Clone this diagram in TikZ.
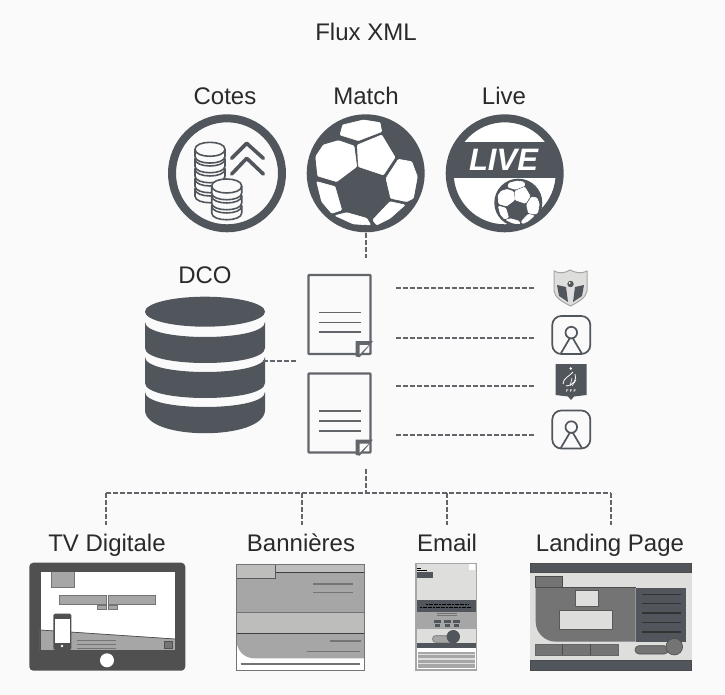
\documentclass[tikz,border=0pt]{standalone}
\usepackage{fontspec}
\setmainfont{Liberation Sans}
\definecolor{ink}{HTML}{50565C}
\definecolor{bgc}{HTML}{FAFAFA}
\definecolor{txt}{HTML}{2A2A2A}
\definecolor{docc}{HTML}{62666A}
\definecolor{gm}{HTML}{A6A6A6}
\definecolor{gl}{HTML}{BDBDBB}
\definecolor{gd}{HTML}{747474}
\definecolor{gx}{HTML}{DEDEDC}
\definecolor{tvd}{HTML}{505050}
\tikzset{
 lab/.style={font=\fontsize{24}{26}\selectfont,text=txt,inner sep=0pt,anchor=base,text height=17pt},
 ring/.style={circle,draw=ink,line width=8pt,minimum size=110pt,inner sep=0pt},
 dashconn/.style={draw=docc,line width=1.8pt,dash pattern=on 5pt off 2pt},
 docbox/.style={draw=docc,line width=2.4pt,fill=bgc,minimum width=62pt,minimum height=79pt,inner sep=0pt,rounded corners=0.8pt},
 docline/.style={draw=docc,line width=1.3pt},
 coin/.style={draw=ink,line width=1.6pt,fill=bgc},
 chev/.style={draw=ink,line width=3.6pt,line cap=round,line join=round},
 panel/.style={fill=white,draw=white,line width=0.6pt,rounded corners=1pt},
 thinl/.style={draw=#1,line width=1.3pt},
 thinl/.default=gd
}
\newcommand{\ballpanels}{%
 \path[panel] (-77,-115)--(-69,-145)--(-7,-160)--(43,-152)--(48,-125)--(-22,-98)--cycle;
 \path[panel] (-82,-98)--(-35,-82)--(-27,-20)--(-87,25)--(-144,8)--(-150,-50)--(-127,-85)--cycle;
 \path[panel] (-25,-85)--(48,-115)--(88,-48)--(53,5)--(-22,-20)--cycle;
 \path[panel] (98,-42)--(138,-35)--(155,10)--(143,75)--(123,85)--(75,75)--(61,15)--cycle;
 \path[panel] (-147,25)--(-92,40)--(-72,110)--(-102,120)--(-132,85)--cycle;
 \path[panel] (-92,127)--(-57,118)--(3,135)--(15,155)--(-37,152)--cycle;
 \path[panel] (21,140)--(73,85)--(118,95)--(73,135)--(33,155)--cycle;
}
\newcommand{\coinlayer}[3]{% x y rx
 \path[coin] (#1-15,#2)--(#1-15,#2+7) .. controls (#1-15,#2+16) and (#1+15,#2+16) .. (#1+15,#2+7)--(#1+15,#2) .. controls (#1+15,#2-9.3) and (#1-15,#2-9.3) .. cycle;
 \draw[coin,fill=none] (#1-15,#2) .. controls (#1-15,#2+9.3) and (#1+15,#2+9.3) .. (#1+15,#2);
}
\newcommand{\placeholder}[1]{%
 \begin{scope}[shift={(#1)}]
 \draw[draw=ink,line width=1.7pt,rounded corners=9pt] (-19,-19) rectangle (19,19);
 \draw[draw=ink,line width=1.7pt] (0,-2.4) circle[radius=5.8];
 \draw[draw=ink,line width=1.7pt] (-10.5,18.5)--(-1.5,3.2) (10.5,18.5)--(1.5,3.2);
 \end{scope}}
\newcommand{\docfold}[1]{%
 \begin{scope}[shift={(#1)}]
 \fill[docc] (-16,1.2)--(-16,-14)--(1.2,-14)--(-12,2)--cycle;
 \fill[bgc] (-12,-1)--(-12,-10)--(-3,-10)--cycle;
 \end{scope}}
\begin{document}
\begin{tikzpicture}[x=1pt,y=-1pt]
\useasboundingbox (0,0) rectangle (725,695);
\fill[bgc] (0,0) rectangle (725,695);
% titles
\node[lab] (flux) at (366,41) {Flux XML};
\node[lab] (cotesl) at (225,105) {Cotes};
\node[lab] (matchl) at (366,105) {Match};
\node[lab] (livel) at (504,105) {Live};
\node[lab] (dco) at (205,283) {DCO};
% Cotes
\node[ring] (cotes) at (227,173.3) {};
\foreach \yy in {189,179,169,159,149.3} {\coinlayer{210}{\yy}{15}}
\foreach \yy in {206,196,186} {\coinlayer{226.7}{\yy}{15}}
\draw[chev] (231.7,158.3)--(246.7,143.3)--(263.3,158.3);
\draw[chev] (231.7,174)--(246.7,158.3)--(263.3,174);
% Match
\node[ring,fill=ink] (match) at (365.7,173.3) {};
\begin{scope}[shift={(365.7,173.3)},scale=1/3]
 \ballpanels
\end{scope}
% Live
\node[ring,fill=white] (live) at (504.7,173.3) {};
\begin{scope}
 \clip (504.7,173.3) circle[radius=56];
 \fill[ink] (440,141.7) rectangle (570,178.3);
 \fill[ink] (518.3,202.7) circle[radius=24];
 \begin{scope}[shift={(518.3,202.7)},scale=0.1356]
  \ballpanels
 \end{scope}
\end{scope}
\node[font=\fontsize{31}{31}\selectfont\bfseries\itshape,text=white,inner sep=0pt] (livet) at (503.5,160) {LIVE};
% database
\coordinate (db) at (263,361);
\fill[ink] (205,311.7) ellipse[x radius=60,y radius=15];
\fill[ink] (145,322) .. controls (145,342) and (265,342) .. (265,322) -- (265,348) .. controls (265,368) and (145,368) .. (145,348) -- cycle;
\fill[ink] (145,357) .. controls (145,377) and (265,377) .. (265,357) -- (265,383) .. controls (265,403) and (145,403) .. (145,383) -- cycle;
\fill[ink] (145,392) .. controls (145,412) and (265,412) .. (265,392) -- (265,410) .. controls (265,441) and (145,441) .. (145,410) -- cycle;
% documents
\node[docbox] (doc1) at (339.5,314.5) {};
\node[docbox] (doc2) at (339.5,413) {};
\foreach \yy in {312.7,322.3,332} {\draw[docline] (319,\yy)--(361,\yy);}
\foreach \yy in {411,421,431} {\draw[docline] (319,\yy)--(361,\yy);}
\docfold{doc1.south east}
\docfold{doc2.south east}
% icons
\coordinate (s1) at (570.5,288);
\coordinate (s2) at (571,338);
\coordinate (s3) at (571,386);
\coordinate (s4) at (571,435);
% shield
\fill[gx] (554,271) .. controls (560,274) and (565,273) .. (570,270) .. controls (576,273) and (582,274) .. (587,271) -- (587,291) .. controls (586,298) and (578,302) .. (570.5,306) .. controls (563,302) and (555,298) .. (554,291) -- cycle;
\draw[gm,line width=1pt] (554,271) .. controls (560,274) and (565,273) .. (570,270) .. controls (576,273) and (582,274) .. (587,271) -- (587,291) .. controls (586,298) and (578,302) .. (570.5,306) .. controls (563,302) and (555,298) .. (554,291) -- cycle;
\fill[ink] (557,285)--(566,287)--(568,302)--(559,296)--cycle;
\fill[ink] (584,285)--(575,287)--(573,302)--(582,296)--cycle;
\fill[ink] (570.5,284) circle[radius=3.2];
\fill[white] (569.5,283) circle[radius=1];
% placeholders
\placeholder{571.3,335}
\placeholder{571.3,429.5}
% FFF badge
\fill[ink] (555.5,364) -- (586.5,364) -- (586.5,395) -- (574,396.5) -- (571,400) -- (568,396.5) -- (555.5,395) -- cycle;
\fill[white] (570.7,368.5) circle[radius=1.3];
\draw[white,line width=0.8pt] (563,384) .. controls (563,378) and (570,376) .. (573,372);
\draw[white,line width=0.8pt] (566,386) .. controls (574,385) and (577,380) .. (575,374);
\draw[white,line width=0.6pt] (570,386) -- (572,378) (572,386)--(576,380);
\node[font=\fontsize{4}{4}\selectfont\bfseries,text=white,inner sep=0pt] (fff) at (571,391) {F\,\,F\,\,F};
% screens labels
\node[lab] (tv) at (107,551) {TV Digitale};
\node[lab] (ban) at (301,551) {Bannières};
\node[lab] (ema) at (447,551) {Email};
\node[lab] (lan) at (610,551) {Landing Page};
% connectors
\coordinate (bus) at (366,493);
\coordinate (bt) at (106,493);
\coordinate (bb) at (302,493);
\coordinate (be) at (447,493);
\coordinate (bl) at (611,493);
\draw[dashconn,shorten <=1pt,shorten >=16pt] (match.south) -- (match.south |- doc1.north);
\draw[dashconn,shorten >=11pt] (db) -- (db -| doc1.west);
\draw[dashconn,shorten <=24pt,shorten >=36pt] (doc1.east |- s1) -- (s1);
\draw[dashconn,shorten <=24pt,shorten >=36pt] (doc1.east |- s2) -- (s2);
\draw[dashconn,shorten <=24pt,shorten >=36pt] (doc2.east |- s3) -- (s3);
\draw[dashconn,shorten <=24pt,shorten >=36pt] (doc2.east |- s4) -- (s4);
\draw[dashconn,shorten <=15pt] (doc2.south -| bus) -- (bus);
\draw[dashconn] (bt) -- (bl);
\draw[dashconn,shorten >=9pt] (bt) -- (bt |- tv.north);
\draw[dashconn,shorten >=9pt] (bb) -- (bb |- ban.north);
\draw[dashconn,shorten >=9pt] (be) -- (be |- ema.north);
\draw[dashconn,shorten >=9pt] (bl) -- (bl |- lan.north);
% TV
\fill[tvd,rounded corners=4pt] (29.3,562.7) rectangle (185.3,670.7);
\fill[white] (40,571.7) rectangle (175,650);
\draw[draw=gm,fill=gm] (40,630)--(175,639)--(175,650)--(40,650)--cycle;
\draw[black!70,line width=0.7pt] (40,630)--(175,639);
\draw[gd,fill=gm,line width=0.7pt] (51.7,571.7) rectangle (74,587.3);
\draw[gd,fill=gm,line width=0.7pt] (59,595.3) rectangle (106,604.3);
\draw[gd,fill=gm,line width=0.7pt] (108.7,595.3) rectangle (155.7,604.3);
\draw[gd,fill=gm,line width=0.7pt] (97,605) rectangle (106,609);
\draw[gd,fill=gm,line width=0.7pt] (108.7,605) rectangle (117.7,609);
\fill[tvd,rounded corners=1.5pt] (53.3,613.7) rectangle (71.3,650);
\fill[white] (55.3,619.3) rectangle (69.7,642.7);
\fill[white] (62,646) circle[radius=1.4];
\foreach \yy in {640.3,644.3,648.3} {\draw[thinl] (76.7,\yy)--(115.7,\yy);}
\draw[tvd,fill=gd,line width=0.7pt] (164.3,641.7) rectangle (172,648);
\fill[white] (107,660.3) circle[radius=7];
\draw[tvd,line width=1pt] (40,571.7) rectangle (175,650);
% Banner
\fill[white] (236.7,564) rectangle (364,670);
\fill[gl] (236.7,564) rectangle (364,572.3);
\fill[gm] (236.7,572.3) rectangle (364,612.3);
\draw[gd,fill=gl,line width=0.8pt] (236.7,612.3) rectangle (364,633.3);
\fill[gm,rounded corners=0pt] (236.7,633.3) -- (364,633.3) -- (364,658.3) -- (254,658.3) .. controls (244,658.3) and (236.7,650) .. (236.7,641) -- cycle;
\draw[black!75,line width=0.7pt] (236.7,572.3)--(364,572.3) (236.7,633.3)--(364,633.3);
\draw[black!65,fill=gl,line width=0.7pt] (236.7,564) rectangle (275,578.3);
\foreach \a/\b/\yy in {313/353/584,313/353/592.3,330/361/641,306.7/360/651.7,240.7/360/664} {\draw[thinl] (\a,\yy)--(\b,\yy);}
\draw[gd,line width=1pt] (236.7,564) rectangle (364,670);
% Email
\fill[white] (416,563.3) rectangle (476.7,670);
\fill[gx] (416,563.3) rectangle (476.7,572);
\fill[white] (469.3,564.3) rectangle (475,570);
\draw[black,line width=0.8pt] (417,568)--(421,568) (417,570.5)--(427,570.5);
\fill[gx] (417.3,572.3) rectangle (475.7,600);
\fill[ink] (417.3,572.3) rectangle (432.7,577.7);
\fill[ink] (417.3,600) rectangle (475.7,612.3);
\fill[gm] (417.3,612.3) rectangle (475.7,629);
\fill[gx] (417.3,629) rectangle (475.7,643.3);
\draw[black,line width=0.8pt,dash pattern=on 2pt off 0.6pt] (426,604)--(468,604) (420,607)--(472,607);
\draw[gd,line width=0.6pt] (437,613.5)--(457,613.5) (437,615.5)--(457,615.5);
\foreach \xx in {437,447,456.5} {\fill[ink] (\xx-3.5,619.5) rectangle (\xx+3.5,622.5); \fill[ink] (\xx-2.5,624) rectangle (\xx+2.5,627);}
\draw[gd,fill=gm,rounded corners=2.5pt,line width=0.6pt] (432.7,635.7) rectangle (453.3,642.3);
\fill[ink] (453.3,636.7) circle[radius=6.7];
\fill[ink] (417.3,643.3) rectangle (475.7,648.3);
\fill[gm] (418.3,651.5) rectangle (475,668);
\foreach \yy in {654.5,659,663.5} {\draw[gx,line width=1.1pt] (418.3,\yy)--(475,\yy);}
\draw[gm,line width=1.1pt] (416,563.3) rectangle (476.7,670);
% Landing
\fill[gx] (530,563.3) rectangle (691.7,670.7);
\draw[black!70,fill=ink,line width=0.6pt] (530,563.3) rectangle (691.7,572.3);
\draw[black!70,fill=ink,line width=0.6pt] (530,660) rectangle (691.7,670.7);
\draw[black!70,fill=gd,line width=0.6pt] (535.7,576.7) rectangle (562.7,587.7);
\fill[gd] (535.7,587.7) -- (635.7,587.7) -- (635.7,641.7) -- (556,641.7) .. controls (544,641.7) and (535.7,632) .. (535.7,622) -- cycle;
\draw[black!70,line width=0.6pt] (535.7,587.7)--(635.7,587.7);
\fill[ink] (635.7,587.7) rectangle (685.7,641.7);
\foreach \yy in {594.3,603.7,613,622.7,632} {\draw[draw=black!80,line width=1.2pt] (642.3,\yy)--(681,\yy);}
\draw[black!65,fill=gx,line width=0.6pt] (575,590) rectangle (598.3,606);
\draw[black!65,fill=gx,line width=0.6pt] (559,610) rectangle (612.3,629);
\draw[black!60,fill=gd,line width=0.6pt] (535.7,644) rectangle (618,655);
\draw[black!70,line width=1pt] (562.7,644)--(562.7,655) (590.3,644)--(590.3,655);
\draw[black!70,fill=gd,rounded corners=4pt,line width=0.6pt] (635,645.7) rectangle (668.3,654);
\draw[black!70,fill=gd,line width=0.6pt] (674.3,646.7) circle[radius=8.3];
\end{tikzpicture}
\end{document}
